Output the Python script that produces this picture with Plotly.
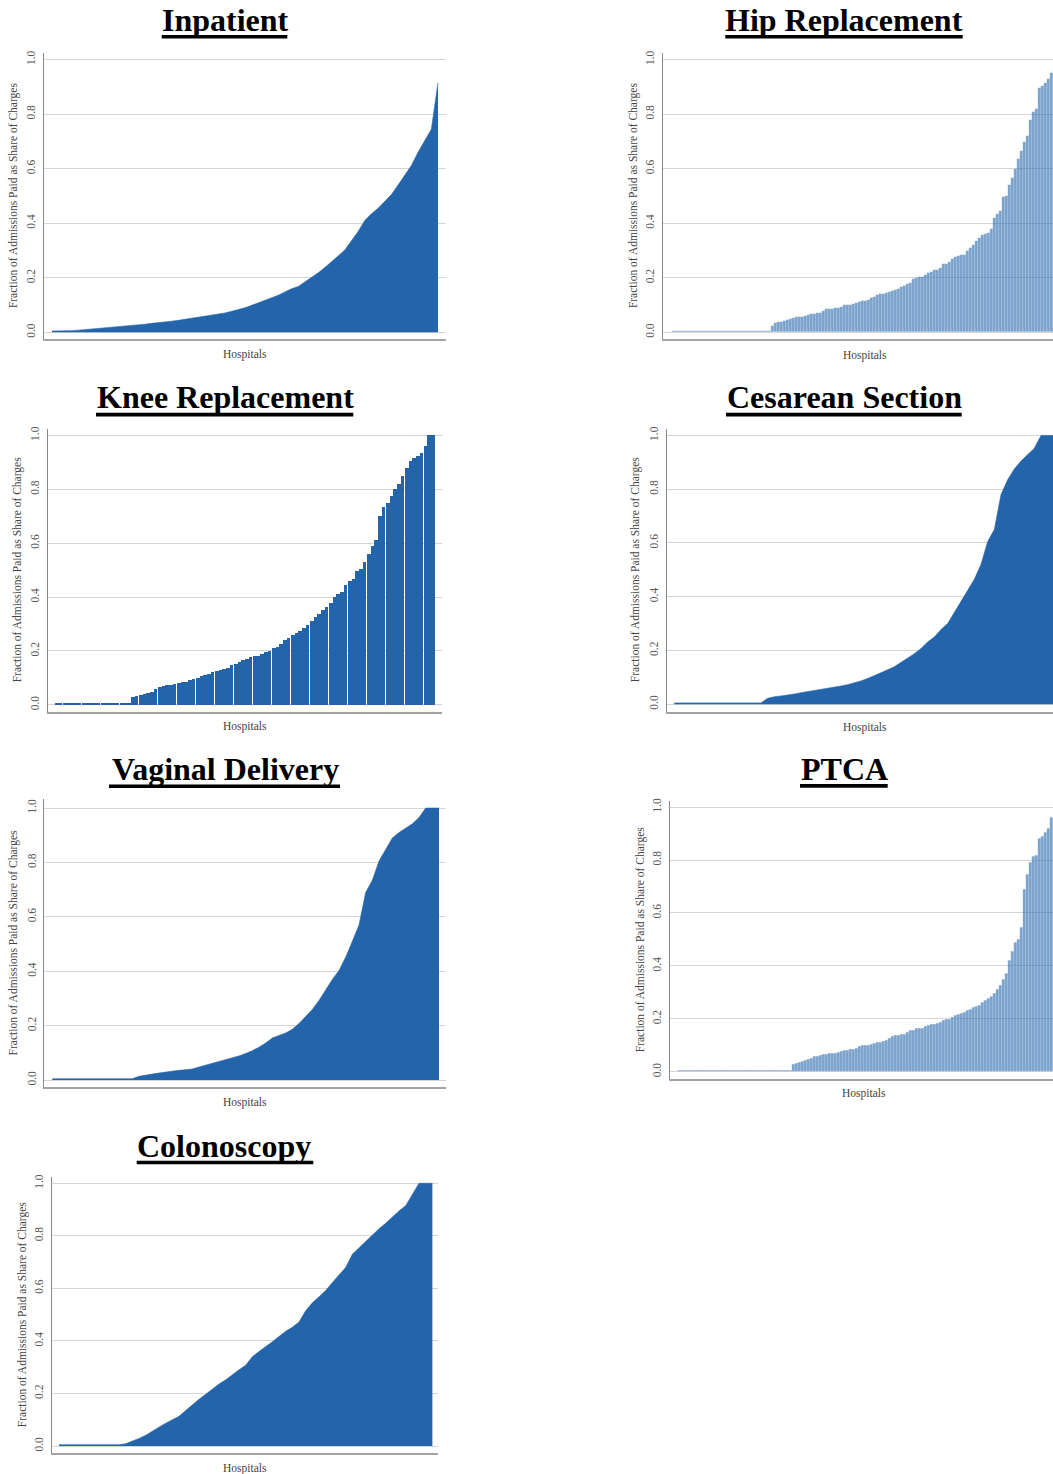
import plotly.graph_objects as go

W, H = 1053, 1474

# Fraction of admissions paid as a share of charges, hospitals ranked low to high
inpatient = [
    0.005, 0.005, 0.005, 0.006, 0.008, 0.010, 0.012, 0.015, 0.017, 0.019,
    0.021, 0.023, 0.026, 0.028, 0.030, 0.033, 0.035, 0.038, 0.041, 0.044,
    0.048, 0.051, 0.055, 0.058, 0.062, 0.066, 0.071, 0.077, 0.083, 0.090,
    0.099, 0.108, 0.118, 0.126, 0.136, 0.148, 0.160, 0.168, 0.185, 0.200,
    0.218, 0.238, 0.258, 0.280, 0.302, 0.335, 0.370, 0.410, 0.435, 0.455,
    0.480, 0.505, 0.540, 0.578, 0.612, 0.660, 0.705, 0.745, 0.915,
]

hip_replacement = [
    0.005, 0.005, 0.005, 0.005, 0.005, 0.005, 0.005, 0.005, 0.005, 0.005,
    0.005, 0.005, 0.005, 0.005, 0.005, 0.005, 0.005, 0.005, 0.005, 0.005,
    0.005, 0.005, 0.005, 0.005, 0.005, 0.005, 0.005, 0.005, 0.005, 0.005,
    0.005, 0.005, 0.005,
    0.025, 0.033, 0.038, 0.040, 0.042, 0.045, 0.048, 0.052, 0.055, 0.055,
    0.058, 0.060, 0.065, 0.067, 0.068, 0.070, 0.072, 0.078, 0.085, 0.086,
    0.087, 0.090, 0.090, 0.092, 0.100, 0.101, 0.102, 0.104, 0.107, 0.110,
    0.114, 0.117, 0.120, 0.125, 0.130, 0.136, 0.140, 0.142, 0.145, 0.150,
    0.153, 0.157, 0.160, 0.167, 0.172, 0.177, 0.180, 0.195, 0.200, 0.202,
    0.205, 0.212, 0.218, 0.222, 0.228, 0.230, 0.235, 0.250, 0.252, 0.258,
    0.268, 0.275, 0.280, 0.283, 0.283, 0.298, 0.310, 0.322, 0.335, 0.345,
    0.358, 0.362, 0.365, 0.380, 0.420, 0.435, 0.445, 0.495, 0.500, 0.540,
    0.565, 0.600, 0.635, 0.665, 0.700, 0.720, 0.780, 0.810, 0.820, 0.895,
    0.905, 0.915, 0.930, 0.950, 0.960,
]

knee_replacement = [
    0.005, 0.005, 0.005, 0.005, 0.005, 0.005, 0.005, 0.005, 0.005, 0.005,
    0.005, 0.005, 0.005, 0.005, 0.005, 0.005, 0.005, 0.005, 0.005, 0.005,
    0.028, 0.033, 0.036, 0.040, 0.043, 0.048, 0.058, 0.065, 0.070, 0.072,
    0.074, 0.078, 0.082, 0.084, 0.086, 0.090, 0.095, 0.100, 0.105, 0.110,
    0.115, 0.120, 0.125, 0.130, 0.133, 0.138, 0.148, 0.153, 0.160, 0.165,
    0.170, 0.176, 0.180, 0.182, 0.188, 0.195, 0.200, 0.210, 0.215, 0.225,
    0.240, 0.248, 0.260, 0.268, 0.275, 0.285, 0.295, 0.310, 0.325, 0.338,
    0.350, 0.362, 0.378, 0.400, 0.412, 0.420, 0.445, 0.458, 0.465, 0.495,
    0.505, 0.530, 0.560, 0.590, 0.610, 0.700, 0.735, 0.750, 0.775, 0.800,
    0.820, 0.850, 0.880, 0.905, 0.915, 0.922, 0.935, 0.960, 1.000, 1.000,
]

cesarean_section = [
    0.005, 0.005, 0.005, 0.005, 0.005, 0.005, 0.005, 0.005, 0.005, 0.005,
    0.005, 0.005, 0.005, 0.005,
    0.022, 0.028, 0.031, 0.034, 0.038, 0.043, 0.047, 0.050, 0.054, 0.058,
    0.063, 0.068, 0.073, 0.079, 0.087, 0.096, 0.106, 0.116, 0.128, 0.140,
    0.155, 0.171, 0.188, 0.207, 0.232, 0.250, 0.278, 0.300, 0.340, 0.385,
    0.425, 0.465, 0.520, 0.605, 0.650, 0.780, 0.835, 0.875, 0.905, 0.930,
    0.952, 1.000, 1.000, 1.000,
]

vaginal_delivery = [
    0.005, 0.005, 0.005, 0.005, 0.005, 0.005, 0.005, 0.005, 0.005, 0.005,
    0.005, 0.005, 0.005,
    0.014, 0.019, 0.022, 0.026, 0.030, 0.034, 0.036, 0.038, 0.041, 0.048,
    0.055, 0.061, 0.068, 0.074, 0.081, 0.089, 0.098, 0.108, 0.121, 0.136,
    0.155, 0.164, 0.173, 0.187, 0.208, 0.234, 0.260, 0.293, 0.334, 0.370,
    0.403, 0.452, 0.510, 0.570, 0.690, 0.735, 0.805, 0.850, 0.890, 0.910,
    0.925, 0.942, 0.965, 1.000, 1.000, 1.000,
]

ptca = [
    0.005, 0.005, 0.005, 0.005, 0.005, 0.005, 0.005, 0.005, 0.005, 0.005,
    0.005, 0.005, 0.005, 0.005, 0.005, 0.005, 0.005, 0.005, 0.005, 0.005,
    0.005, 0.005, 0.005, 0.005, 0.005, 0.005, 0.005, 0.005, 0.005, 0.005,
    0.005, 0.005, 0.005, 0.005, 0.005, 0.005, 0.005, 0.005,
    0.028, 0.033, 0.036, 0.040, 0.043, 0.048, 0.052, 0.057, 0.060, 0.063,
    0.065, 0.067, 0.068, 0.070, 0.071, 0.073, 0.078, 0.080, 0.082, 0.085,
    0.086, 0.088, 0.095, 0.100, 0.100, 0.100, 0.103, 0.107, 0.110, 0.112,
    0.115, 0.120, 0.125, 0.133, 0.136, 0.138, 0.140, 0.142, 0.148, 0.155,
    0.158, 0.163, 0.165, 0.166, 0.170, 0.176, 0.178, 0.181, 0.183, 0.188,
    0.193, 0.200, 0.200, 0.205, 0.212, 0.217, 0.222, 0.226, 0.232, 0.236,
    0.242, 0.248, 0.250, 0.262, 0.268, 0.276, 0.285, 0.295, 0.310, 0.328,
    0.350, 0.370, 0.420, 0.455, 0.490, 0.500, 0.545, 0.690, 0.745, 0.790,
    0.815, 0.818, 0.880, 0.890, 0.905, 0.920, 0.960,
]

colonoscopy = [
    0.005, 0.005, 0.005, 0.005, 0.005, 0.005, 0.005, 0.005, 0.005, 0.005,
    0.009, 0.018, 0.029, 0.041, 0.055, 0.072, 0.087, 0.100, 0.113, 0.135,
    0.157, 0.178, 0.197, 0.218, 0.236, 0.252, 0.272, 0.290, 0.308, 0.340,
    0.360, 0.377, 0.397, 0.417, 0.437, 0.452, 0.472, 0.515, 0.545, 0.568,
    0.592, 0.622, 0.650, 0.680, 0.730, 0.755, 0.778, 0.805, 0.827, 0.848,
    0.872, 0.895, 0.915, 0.960, 1.000, 1.000, 1.000,
]

y_tick_values = [0.0, 0.2, 0.4, 0.6, 0.8, 1.0]
y_tick_labels = ["0.0", "0.2", "0.4", "0.6", "0.8", "1.0"]
y_title = "Fraction of Admissions Paid as Share of Charges"
x_title = "Hospitals"

DARK = "#2364aa"
LIGHT = "rgba(35,100,170,0.6)"
SERIF = "Liberation Serif, Times New Roman, serif"

# Panel layout in pixels: plot box, where 0 and 1 fall, heading underline and label anchors
panels = [
    dict(title="Inpatient", values=inpatient, kind="area",
         left=44, right=446, top=50, bottom=337, y0=330, y1=56.7, xr=[-1.2, 59.2],
         tx=225, tbase=28, ul=(161.7, 287.3, 33.8), ytx=13, xly=352, xlx=245),
    dict(title="Hip Replacement", values=hip_replacement, kind="light",
         left=663, right=1053, top=50, bottom=337, y0=330, y1=56.7, xr=[-3.5, 126.5],
         tx=844, tbase=28, ul=(725.3, 962.7, 33.8), ytx=633, xly=353, xlx=865),
    dict(title="Knee Replacement", values=knee_replacement, kind="bars",
         left=47.7, right=442, top=427, bottom=710, y0=703.3, y1=433.3, xr=[-2.42, 101.4],
         tx=225, tbase=406, ul=(96, 353.3, 412.5), ytx=17, xly=725, xlx=245),
    dict(title="Cesarean Section", values=cesarean_section, kind="area",
         left=666.7, right=1053, top=426.7, bottom=710, y0=702.7, y1=433.3, xr=[-1.14, 56.8],
         tx=844, tbase=406, ul=(726, 961.7, 412.5), ytx=635, xly=726, xlx=865),
    dict(title="Vaginal Delivery", values=vaginal_delivery, kind="area",
         left=44.3, right=445.7, top=798, bottom=1086.7, y0=1079.3, y1=806.7, xr=[-1.2, 59.0],
         tx=225, tbase=779, ul=(109, 340, 784.8), ytx=13, xly=1102, xlx=245),
    dict(title="PTCA", values=ptca, kind="light",
         left=670, right=1053, top=800, bottom=1078.3, y0=1071, y1=805.7, xr=[-3.07, 124.6],
         tx=844, tbase=779, ul=(800, 887.7, 784.5), ytx=640, xly=1093, xlx=864),
    dict(title="Colonoscopy", values=colonoscopy, kind="area",
         left=51.7, right=437.7, top=1176.7, bottom=1453, y0=1446, y1=1182.7, xr=[-1.1, 56.8],
         tx=224, tbase=1156, ul=(136.7, 313.3, 1161.8), ytx=22, xly=1468, xlx=245),
]

fig = go.Figure()
annotations = []
shapes = []
layout_axes = {}

for i, p in enumerate(panels, start=1):
    xa = "x" if i == 1 else f"x{i}"
    ya = "y" if i == 1 else f"y{i}"
    vals = p["values"]
    hosp = list(range(len(vals)))

    if p["kind"] == "area":
        fig.add_trace(go.Scatter(
            x=hosp, y=vals, mode="lines", fill="tozeroy",
            fillcolor=DARK, line=dict(color=DARK, width=0.6),
            xaxis=xa, yaxis=ya, showlegend=False, hoverinfo="skip"))
    elif p["kind"] == "light":
        # translucent bars with a faint light edge between neighbours
        fig.add_trace(go.Bar(
            x=hosp, y=vals, width=1.0,
            marker=dict(color=LIGHT, line=dict(color="rgba(255,255,255,0.38)", width=0.4)),
            xaxis=xa, yaxis=ya, showlegend=False, hoverinfo="skip"))
    else:
        # every fifth bar is drawn a little narrower, leaving a thin seam
        widths = [0.75 if k % 5 == 1 else 1.0 for k in hosp]
        fig.add_trace(go.Bar(
            x=hosp, y=vals, width=widths, offset=-0.5,
            marker=dict(color=DARK, line=dict(width=0)),
            xaxis=xa, yaxis=ya, showlegend=False, hoverinfo="skip"))

    scale = p["y0"] - p["y1"]
    y_lo = -(p["bottom"] - p["y0"]) / scale
    y_hi = 1 + (p["y1"] - p["top"]) / scale

    key = "" if i == 1 else str(i)
    layout_axes["xaxis" + key] = dict(
        domain=[p["left"] / W, min(p["right"] / W, 1.0)], range=p["xr"],
        anchor=ya, showgrid=False, zeroline=False, showticklabels=False,
        ticks="", showline=True, linecolor="#a3a3a3", linewidth=2, fixedrange=True)
    layout_axes["yaxis" + key] = dict(
        domain=[1 - p["bottom"] / H, 1 - p["top"] / H], range=[y_lo, y_hi],
        anchor=xa, tickmode="array", tickvals=y_tick_values, ticktext=y_tick_labels,
        tickangle=-90, tickfont=dict(family=SERIF, size=11.5, color="#555555"),
        ticks="", ticklabelstandoff=3,
        showgrid=True, gridcolor="#d5d5d5", gridwidth=1, zeroline=False,
        showline=True, linecolor="#8a8a8a", linewidth=1, fixedrange=True)

    # panel heading with a heavy underline
    annotations.append(dict(
        text=f"<b>{p['title']}</b>", x=p["tx"] / W, y=1 - (p["tbase"] - 11) / H,
        xref="paper", yref="paper", xanchor="center", yanchor="middle", showarrow=False,
        font=dict(family=SERIF, size=32, color="#000000")))
    ux0, ux1, uy = p["ul"]
    shapes.append(dict(
        type="line", xref="paper", yref="paper",
        x0=ux0 / W, x1=ux1 / W, y0=1 - uy / H, y1=1 - uy / H,
        line=dict(color="#000000", width=3.6)))

    annotations.append(dict(
        text=y_title, x=p["ytx"] / W, y=1 - ((p["top"] + p["bottom"]) / 2) / H,
        xref="paper", yref="paper", xanchor="center", yanchor="middle", showarrow=False,
        textangle=-90, font=dict(family=SERIF, size=11.5, color="#444444")))
    annotations.append(dict(
        text=x_title, x=p["xlx"] / W, y=1 - p["xly"] / H,
        xref="paper", yref="paper", xanchor="center", yanchor="middle", showarrow=False,
        font=dict(family=SERIF, size=11.5, color="#444444")))

fig.update_layout(
    width=W, height=H, margin=dict(l=0, r=0, t=0, b=0),
    paper_bgcolor="white", plot_bgcolor="white",
    bargap=0, annotations=annotations, shapes=shapes, **layout_axes)

fig.write_html("out.html", config=dict(displayModeBar=False))
